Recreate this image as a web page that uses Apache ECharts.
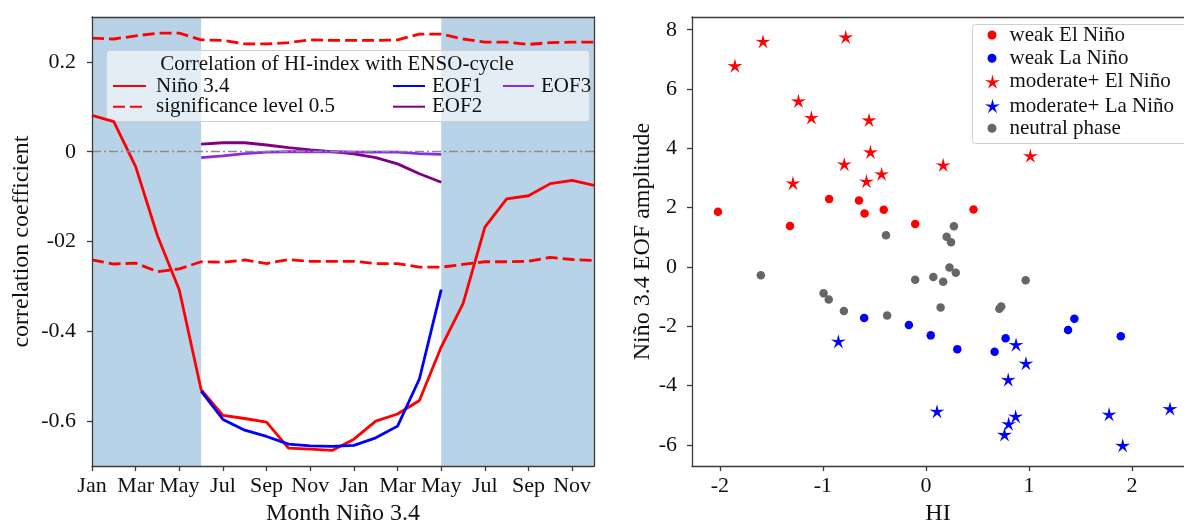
<!DOCTYPE html>
<html>
<head>
<meta charset="utf-8">
<script src="https://cdn.jsdelivr.net/npm/echarts@6.0.0/dist/echarts.min.js"></script>
<style>
  html, body { margin: 0; padding: 0; background: #fff; }
  #chart { width: 1184px; height: 531px; }
</style>
</head>
<body>
<div id="chart"></div>
<script>
  // ---- left panel: correlation by month ----
  const months = ['Jan','Feb','Mar','Apr','May','Jun','Jul','Aug','Sep','Oct','Nov','Dec',
                  'Jan','Feb','Mar','Apr','May','Jun','Jul','Aug','Sep','Oct','Nov','Dec'];
  const nino34 = [0.081, 0.067, -0.033, -0.187, -0.308, -0.530, -0.587, -0.594, -0.602, -0.660, -0.662, -0.665,
                  -0.640, -0.600, -0.584, -0.554, -0.435, -0.338, -0.168, -0.105, -0.098, -0.071, -0.064, -0.075];
  const sigUpper = [0.253, 0.251, 0.258, 0.264, 0.264, 0.249, 0.248, 0.240, 0.240, 0.243, 0.249, 0.248,
                    0.248, 0.248, 0.249, 0.262, 0.262, 0.251, 0.244, 0.244, 0.239, 0.243, 0.244, 0.244];
  const sigLower = [-0.241, -0.250, -0.248, -0.267, -0.261, -0.245, -0.246, -0.241, -0.249, -0.240, -0.244, -0.244,
                    -0.244, -0.249, -0.249, -0.257, -0.257, -0.251, -0.245, -0.245, -0.244, -0.235, -0.240, -0.242];
  // EOF correlations exist from Jun (index 5) to May of the next year
  const eofStart = 5;
  const eof1 = [-0.533, -0.596, -0.620, -0.634, -0.651, -0.655, -0.656, -0.654, -0.637, -0.611, -0.506, -0.307];
  const eof2 = [0.017, 0.020, 0.020, 0.015, 0.009, 0.004, 0.000, -0.005, -0.013, -0.027, -0.049, -0.068];
  const eof3 = [-0.013, -0.009, -0.004, -0.001, 0.000, 0.000, 0.000, -0.001, -0.001, -0.001, -0.004, -0.006];
  const shadedSpans = [[0, 5], [16, 23]];
  const corrTicks = [-0.6, -0.4, -0.2, 0, 0.2];
  const corrTickLabels = ['-0.6', '-0.4', '-02', '0', '0.2'];

  // ---- right panel: HI vs Niño 3.4 EOF amplitude ----
  const weakElNino = [[-2.018, 1.86], [-1.319, 1.38], [-0.939, 2.29], [-0.649, 2.24], [-0.595, 1.80],
                      [-0.409, 1.93], [-0.104, 1.45], [0.462, 1.94]];
  const weakLaNina = [[-0.599, -1.72], [-0.165, -1.96], [0.047, -2.31], [0.305, -2.78], [0.667, -2.86],
                      [0.774, -2.41], [1.380, -2.13], [1.441, -1.75], [1.892, -2.34]];
  const modElNino = [[-1.853, 6.79], [-1.581, 7.61], [-0.778, 7.76], [-1.237, 5.60], [-1.111, 5.04],
                     [-0.552, 4.96], [-0.538, 3.88], [-0.792, 3.47], [-1.290, 2.83], [-0.577, 2.89],
                     [-0.430, 3.14], [0.168, 3.44], [1.014, 3.75]];
  const modLaNina = [[-0.849, -2.51], [0.875, -2.62], [0.971, -3.25], [0.799, -3.80], [0.108, -4.87],
                     [0.871, -5.04], [0.803, -5.29], [0.763, -5.65], [1.778, -4.97], [1.910, -6.02],
                     [2.369, -4.78]];
  const neutral = [[-0.387, 1.07], [0.201, 1.02], [0.244, 0.83], [0.272, 1.37], [-1.602, -0.28],
                   [0.229, -0.02], [0.290, -0.20], [-0.104, -0.43], [0.072, -0.34], [0.168, -0.50],
                   [0.968, -0.45], [-0.993, -0.89], [-0.943, -1.10], [-0.796, -1.49], [-0.376, -1.64],
                   [0.143, -1.37], [0.713, -1.41], [0.731, -1.34]];
  const hiTicks = [-2, -1, 0, 1, 2];
  const ampTicks = [-6, -4, -2, 0, 2, 4, 6, 8];

  const FONT = 'Liberation Serif';
  const FS = 21;      // legend text
  const TICK_FS = 22;
  const NAME_FS = 24;
  const INK = '#111';
  const AXIS = '#3a3a3a';
  // thin five-point star like matplotlib's '*' marker
  const STAR = 'path://M50 0 L59.4 37.1 L97.6 34.6 L65.2 55 L79.4 90.5 L50 66 L20.6 90.5 L34.8 55 L2.4 34.6 L40.6 37.1 Z';

  const chart = echarts.init(document.getElementById('chart'));

  const axisLine = { show: true, onZero: false, lineStyle: { color: AXIS, width: 1.3 } };
  const tick = { show: true, length: 5, lineStyle: { color: AXIS, width: 1.3 } };
  const tickText = { color: INK, fontFamily: FONT, fontSize: TICK_FS };
  const nameText = { color: INK, fontFamily: FONT, fontSize: NAME_FS };
  const noAxisDecor = { axisTick: { show: false }, axisLabel: { show: false }, splitLine: { show: false } };

  // one legend component per entry, so each row sits where it does in the figure
  function legendItem(name, iconLeft, iconW, iconH, textX, rowY, hideSymbol) {
    const item = {
      data: [name], left: iconLeft, top: rowY - 11, padding: 0,
      itemWidth: iconW, itemHeight: iconH, selectedMode: false,
      textStyle: { color: INK, fontFamily: FONT, fontSize: FS, lineHeight: 22,
                   padding: [0, 0, 0, textX - (iconLeft + iconW + 5)] }
    };
    if (hideSymbol) item.itemStyle = { opacity: 0 };
    return item;
  }

  const shapeLine = (color, width, type) => ({ color: color, width: width, type: type || 'solid' });

  chart.setOption({
    animation: false,
    backgroundColor: '#fff',
    grid: [
      { left: 92, right: 590, top: 17, bottom: 57 },
      { left: 692, right: 0, top: 17, bottom: 57 }
    ],
    xAxis: [
      { type: 'category', gridIndex: 0, data: months, boundaryGap: false, z: 5,
        axisLine: axisLine, axisTick: Object.assign({ interval: 1 }, tick),
        axisLabel: Object.assign({ interval: 1, margin: 9 }, tickText),
        splitLine: { show: false },
        name: 'Month Niño 3.4', nameLocation: 'middle', nameGap: 35,
        nameTextStyle: nameText },
      Object.assign({ type: 'category', gridIndex: 0, data: months, boundaryGap: false,
        position: 'top', z: 5, axisLine: axisLine }, noAxisDecor),
      { type: 'value', gridIndex: 1, min: -2.27, max: 2.505, z: 5,
        axisLine: axisLine, axisTick: Object.assign({ customValues: hiTicks }, tick),
        axisLabel: Object.assign({ customValues: hiTicks, margin: 9 }, tickText),
        splitLine: { show: false },
        name: 'HI', nameLocation: 'middle', nameGap: 35, nameTextStyle: nameText },
      Object.assign({ type: 'value', gridIndex: 1, min: -2.27, max: 2.505,
        position: 'top', z: 5, axisLine: axisLine }, noAxisDecor)
    ],
    yAxis: [
      { type: 'value', gridIndex: 0, min: -0.7, max: 0.3, z: 5,
        axisLine: axisLine, axisTick: Object.assign({ customValues: corrTicks }, tick),
        axisLabel: Object.assign({
          customValues: corrTicks, margin: 16,
          formatter: v => corrTickLabels[corrTicks.findIndex(t => Math.abs(t - v) < 1e-9)]
        }, tickText),
        splitLine: { show: false },
        name: 'correlation coefficient', nameLocation: 'middle', nameGap: 58,
        nameTextStyle: nameText },
      Object.assign({ type: 'value', gridIndex: 0, min: -0.7, max: 0.3,
        position: 'right', z: 5, axisLine: axisLine }, noAxisDecor),
      { type: 'value', gridIndex: 1, min: -6.72, max: 8.43, z: 5,
        axisLine: axisLine, axisTick: Object.assign({ customValues: ampTicks }, tick),
        axisLabel: Object.assign({ customValues: ampTicks, margin: 15 }, tickText),
        splitLine: { show: false },
        name: 'Niño 3.4 EOF amplitude', nameLocation: 'middle', nameGap: 35,
        nameTextStyle: nameText }
    ],
    graphic: [
      { type: 'rect', z: 3, shape: { x: 106.5, y: 50.5, width: 483, height: 71, r: 3 },
        style: { fill: 'rgba(255,255,255,0.6)', stroke: '#cfcfcf', lineWidth: 1 } },
      { type: 'text', z: 4, x: 337, y: 64,
        style: { text: 'Correlation of HI-index with ENSO-cycle', fill: INK, font: FS + 'px "' + FONT + '"',
                 align: 'center', verticalAlign: 'middle' } },
      { type: 'rect', z: 3, shape: { x: 972.5, y: 24.5, width: 230, height: 119, r: 3 },
        style: { fill: 'rgba(255,255,255,0.8)', stroke: '#cfcfcf', lineWidth: 1 } }
    ],
    legend: [
      legendItem('Niño 3.4', 112, 33, 14, 155, 86, true),
      legendItem('significance level 0.5', 112, 33, 14, 155, 106.7, true),
      legendItem('EOF1', 392, 32, 14, 431, 86, true),
      legendItem('EOF2', 392, 32, 14, 431, 106.7, true),
      legendItem('EOF3', 502, 31, 14, 540, 86, true),
      legendItem('weak El Niño', 987.5, 9, 9, 1009.5, 35),
      legendItem('weak La Niño', 987.5, 9, 9, 1009.5, 58.3),
      legendItem('moderate+ El Niño', 985, 15, 15, 1009.5, 81.7),
      legendItem('moderate+ La Niño', 985, 15, 15, 1009.5, 106),
      legendItem('neutral phase', 987.5, 9, 9, 1009.5, 128.3)
    ],
    series: [
      { name: 'significance level 0.5', type: 'line', xAxisIndex: 0, yAxisIndex: 0,
        data: sigUpper, symbol: 'none', lineStyle: shapeLine('#ff0000', 2.8, [12, 5]),
        itemStyle: { color: '#ff0000' },
        markArea: { silent: true, itemStyle: { color: '#b8d3e7' },
                    data: shadedSpans.map(s => [{ xAxis: s[0] }, { xAxis: s[1] }]) } },
      { name: 'significance level 0.5', type: 'line', xAxisIndex: 0, yAxisIndex: 0,
        data: sigLower, symbol: 'none', lineStyle: shapeLine('#ff0000', 2.8, [12, 5]),
        itemStyle: { color: '#ff0000' } },
      { name: 'Niño 3.4', type: 'line', xAxisIndex: 0, yAxisIndex: 0,
        data: nino34, symbol: 'none', lineStyle: shapeLine('#ff0000', 2.8),
        itemStyle: { color: '#ff0000' },
        markLine: { silent: true, symbol: ['none', 'none'], label: { show: false },
                    lineStyle: { color: '#8c8c8c', width: 1.3, type: [9, 3, 2, 3] },
                    data: [{ yAxis: 0 }] } },
      { name: 'EOF1', type: 'line', xAxisIndex: 0, yAxisIndex: 0,
        data: eof1.map((v, i) => [i + eofStart, v]), symbol: 'none',
        lineStyle: shapeLine('#0000ff', 2.8), itemStyle: { color: '#0000ff' } },
      { name: 'EOF2', type: 'line', xAxisIndex: 0, yAxisIndex: 0,
        data: eof2.map((v, i) => [i + eofStart, v]), symbol: 'none',
        lineStyle: shapeLine('#800080', 2.8), itemStyle: { color: '#800080' } },
      { name: 'EOF3', type: 'line', xAxisIndex: 0, yAxisIndex: 0,
        data: eof3.map((v, i) => [i + eofStart, v]), symbol: 'none',
        lineStyle: shapeLine('#8a2be2', 2.8), itemStyle: { color: '#8a2be2' } },

      { name: 'weak El Niño', type: 'scatter', xAxisIndex: 2, yAxisIndex: 2,
        data: weakElNino, symbol: 'circle', symbolSize: 8.5, itemStyle: { color: '#ff0000', opacity: 1 } },
      { name: 'weak La Niño', type: 'scatter', xAxisIndex: 2, yAxisIndex: 2,
        data: weakLaNina, symbol: 'circle', symbolSize: 8.5, itemStyle: { color: '#0000ff', opacity: 1 } },
      { name: 'moderate+ El Niño', type: 'scatter', xAxisIndex: 2, yAxisIndex: 2,
        data: modElNino, symbol: STAR, symbolKeepAspect: true, symbolSize: 15,
        itemStyle: { color: '#ff0000', opacity: 1 } },
      { name: 'moderate+ La Niño', type: 'scatter', xAxisIndex: 2, yAxisIndex: 2,
        data: modLaNina, symbol: STAR, symbolKeepAspect: true, symbolSize: 15,
        itemStyle: { color: '#0000ff', opacity: 1 } },
      { name: 'neutral phase', type: 'scatter', xAxisIndex: 2, yAxisIndex: 2,
        data: neutral, symbol: 'circle', symbolSize: 8.5, itemStyle: { color: '#666666', opacity: 1 } }
    ]
  });
</script>
</body>
</html>
